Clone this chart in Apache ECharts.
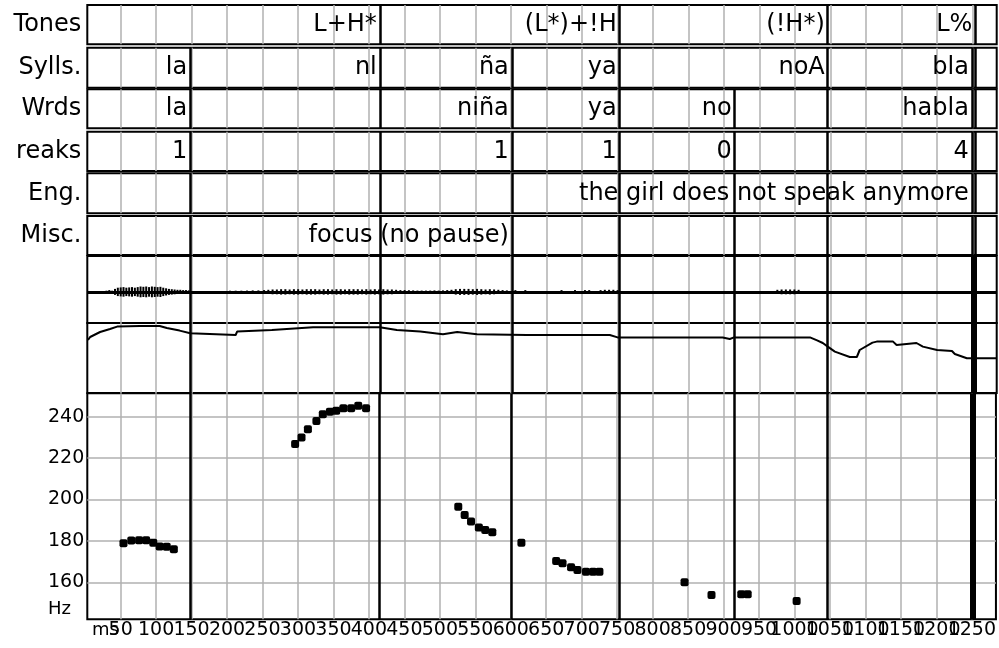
<!DOCTYPE html>
<html><head><meta charset="utf-8">
<script src="https://cdn.jsdelivr.net/npm/echarts@6/dist/echarts.min.js"></script>
<style>html,body{margin:0;padding:0;background:#fff}#c{width:999px;height:648px}</style>
</head><body><div id="c"></div>
<script>
// ---------- data ----------
const xMin = 3, xMax = 1284;
const xTicks = [50,100,150,200,250,300,350,400,450,500,550,600,650,700,750,800,850,900,950,1000,1050,1100,1150,1200,1250];
const pitchTicks = [160,180,200,220,240];
const pitchMin = 142.1, pitchMax = 251.3;

const tierNames = ['Tones','Sylls.','Wrds','reaks','Eng.','Misc.'];
const tonesBounds = [415, 753, 1046, 1254];
const syllBounds  = [148, 415, 601, 753, 1046, 1249, 1254];
const wrdsBounds  = [148, 415, 601, 753, 915, 1046, 1249, 1254];
const reaksBounds = [148, 415, 601, 753, 915, 1046, 1249, 1254];
const engBounds   = [148, 415, 601, 753, 915, 1046, 1249, 1254];
const miscBounds  = [148, 415, 601, 753, 915, 1046, 1249, 1254];
const panelBounds = [148, 415, 601, 753, 915, 1046];
const finalBound = [1251];

const tonesEnds = [415, 753, 1046, 1254];
const tonesText = ['L+H*', '(L*)+!H', '(!H*)', 'L%'];
const syllEnds = [148, 415, 601, 753, 1046, 1249];
const syllText = ['la', 'nl', 'ña', 'ya', 'noA', 'bla'];
const wrdsEnds = [148, 601, 753, 915, 1249];
const wrdsText = ['la', 'niña', 'ya', 'no', 'habla'];
const reaksEnds = [148, 601, 753, 915, 1249];
const reaksText = ['1', '1', '1', '0', '4'];
const engEnds = [1249];
const engText = ['the girl does not speak anymore'];
const miscEnds = [601];
const miscText = ['focus (no pause)'];

// waveform envelope (ms, amplitude)
const waveT = [30,34,38,42,46,50,54,58,62,66,70,74,78,82,86,90,94,98,102,106,110,114,118,122,126,130,134,138,142,146,
  204,212,220,228,236,244,252,258,264,270,276,282,288,294,300,306,312,318,324,330,336,342,348,354,360,366,372,378,384,390,396,402,408,414,
  420,426,432,438,444,450,456,462,468,474,480,486,492,498,504,510,516,522,528,534,540,546,552,558,564,570,576,582,588,594,
  606,620,671,690,704,710,726,732,738,744,750,
  975,981,987,993,999,1005];
const waveA = [0.02,0.03,0.02,0.05,0.07,0.075,0.08,0.07,0.075,0.08,0.07,0.08,0.09,0.085,0.09,0.08,0.09,0.085,0.08,0.085,0.07,0.06,0.05,0.045,0.04,0.035,0.035,0.03,0.03,0.025,
  0.02,0.02,0.02,0.022,0.025,0.025,0.03,0.035,0.04,0.04,0.045,0.045,0.04,0.045,0.045,0.04,0.045,0.045,0.045,0.04,0.045,0.045,0.04,0.045,0.045,0.04,0.045,0.045,0.045,0.04,0.045,0.04,0.045,0.04,
  0.045,0.04,0.04,0.035,0.03,0.03,0.028,0.025,0.022,0.022,0.022,0.022,0.025,0.022,0.025,0.03,0.035,0.045,0.05,0.05,0.05,0.045,0.05,0.045,0.04,0.045,0.04,0.035,0.03,0.025,
  0.03,0.03,0.03,0.03,0.03,0.03,0.03,0.035,0.035,0.035,0.03,
  0.035,0.04,0.04,0.04,0.04,0.035];

// intensity (ms, dB)
const intT = [4,7,21,35,45,77,105,115,133,148,150,212,214,263,321,415,439,472,504,524,552,622,739,750,898,908,914,1021,1031,1039,1046,1056,1077,1087,1091,1109,1115,1138,1143,1171,1180,1200,1221,1225,1242,1284];
const intDb = [71.5,73,75.5,77,78.2,78.5,78.5,77.5,76.2,74.9,74,74,75.7,76.5,77.9,77.9,76.5,75.7,74.4,75.5,74.4,74,74,72.8,72.8,72,72.8,72.8,71.3,70,68.2,65.7,63,63,66.5,70.2,70.7,70.7,69,70,68.2,66.5,66,64.5,62.4,62.4];

// pitch (ms, Hz)
const pitchT = [54,65,76,86,96,105,115,125, 296,305,314,326,335,345,354,364,375,385,396, 526,535,544,555,564,574, 615, 664,673,685,694,706,716,725, 845, 883, 925,934, 1003];
const pitchHz = [178.8,180.2,180.3,180.3,179.1,177.3,177.1,176.0, 226.8,229.9,233.9,237.9,241.2,242.4,242.9,244.1,244.1,245.3,244.1, 196.5,192.5,189.3,186.4,185.3,184.2, 179.1, 170.3,169.2,167.2,165.9,165.1,165.1,165.1, 160.0, 153.9, 154.2,154.2, 151.0];

// ---------- layout ----------
const FONT = 'DejaVu Sans';
const L = 87.3, W = 909.4;
const rows = [
  {top:5, h:39.3},{top:47.7, h:40},{top:89.3, h:39},{top:131.7, h:39.3},{top:173.3, h:40},{top:216, h:39},
  {top:256, h:67},{top:323, h:70},{top:393.3, h:226}
];
const tierBounds = [tonesBounds, syllBounds, wrdsBounds, reaksBounds, engBounds, miscBounds];
const tierEnds = [tonesEnds, syllEnds, wrdsEnds, reaksEnds, engEnds, miscEnds];
const tierTexts = [tonesText, syllText, wrdsText, reaksText, engText, miscText];

const grid = rows.map(r => ({left:L, width:W, top:r.top, height:r.h, show:true, borderColor:'#000', borderWidth:2, backgroundColor:'transparent', containLabel:false}));

const gray = {color:'#b0b0b0', width:1.5};
// labels split over two bottom axes so that overlapping neighbours are never dropped
const labelsA = xTicks.filter((v, k) => k % 2 === 0);
const labelsB = xTicks.filter((v, k) => k % 2 === 1);
const xLabelStyle = {fontSize:19, fontFamily:FONT, color:'#000', margin:1, hideOverlap:false, formatter: v => String(v)};

const xAxis = rows.map((r, i) => ({
  type:'value', gridIndex:i, min:xMin, max:xMax, position:'bottom',
  axisLine:{show:false},
  axisTick:{show:false, customValues:xTicks},
  axisLabel:Object.assign({show:i === 8, customValues:labelsA}, xLabelStyle),
  splitLine:{show:true, lineStyle:gray}
}));
xAxis.push({
  type:'value', gridIndex:8, min:xMin, max:xMax, position:'bottom', offset:0,
  axisLine:{show:false}, axisTick:{show:false, customValues:labelsB}, splitLine:{show:false},
  axisLabel:Object.assign({show:true, customValues:labelsB}, xLabelStyle)
});

const yAxis = [];
tierNames.forEach((n, i) => yAxis.push({
  type:'category', gridIndex:i, data:[n],
  axisLine:{show:false}, axisTick:{show:false}, splitLine:{show:false},
  axisLabel:{fontSize:24, fontFamily:FONT, color:'#000', margin:6}
}));
yAxis.push({type:'value', gridIndex:6, min:-0.52, max:0.6, show:true, axisLine:{show:false}, axisTick:{show:false}, axisLabel:{show:false}, splitLine:{show:false}});
yAxis.push({type:'value', gridIndex:7, min:45, max:80, axisLine:{show:false}, axisTick:{show:false}, axisLabel:{show:false}, splitLine:{show:false}});
yAxis.push({type:'value', gridIndex:8, min:pitchMin, max:pitchMax,
  axisLine:{show:false}, axisTick:{show:false, customValues:pitchTicks},
  axisLabel:{customValues:pitchTicks, fontSize:19, fontFamily:FONT, color:'#000', margin:3},
  splitLine:{show:true, lineStyle:gray}});

function vLines(arr, width) {
  return arr.map(t => ({xAxis:t, lineStyle:{color:'#000', width:width, type:'solid'}}));
}
function mark(arr, width, extra) {
  return {silent:true, symbol:['none','none'], label:{show:false}, animation:false,
    lineStyle:{color:'#000', width:width, type:'solid'},
    data: vLines(arr, width).concat(extra || [])};
}

const series = [];
tierNames.forEach((n, i) => {
  series.push({
    type:'scatter', xAxisIndex:i, yAxisIndex:i, symbolSize:0, itemStyle:{color:'rgba(0,0,0,0)', opacity:1},
    data: tierEnds[i].map((t, k) => ({value:[t, n], txt:tierTexts[i][k]})),
    label:{show:true, position:'left', distance:3, fontSize:24, fontFamily:FONT, color:'#000', opacity:1,
      formatter: p => p.data.txt},
    markLine: mark(tierBounds[i], 2.5),
    z:5
  });
});
// waveform
series.push({
  type:'custom', xAxisIndex:6, yAxisIndex:6, coordinateSystem:'cartesian2d',
  data: waveT.map((t, k) => [t, waveA[k]]),
  encode:{x:0, y:1},
  renderItem: (params, api) => {
    const t = api.value(0), a = api.value(1);
    const p1 = api.coord([t, a]), p2 = api.coord([t, -a]);
    return {type:'line', shape:{x1:p1[0], y1:p1[1], x2:p2[0], y2:p2[1]}, style:{stroke:'#000', lineWidth:2}};
  },
  markLine: mark(panelBounds, 2.5, [{yAxis:0, lineStyle:{color:'#000', width:3, type:'solid'}}].concat(vLines(finalBound, 6))),
  z:5
});
// intensity
series.push({
  type:'line', xAxisIndex:7, yAxisIndex:7, showSymbol:false, symbol:'none',
  data: intT.map((t, k) => [t, intDb[k]]),
  lineStyle:{color:'#000', width:2},
  markLine: mark(panelBounds, 2.5, vLines(finalBound, 6)),
  z:5
});
// pitch
series.push({
  type:'scatter', xAxisIndex:8, yAxisIndex:8, symbol:'roundRect', symbolSize:8,
  itemStyle:{color:'#000', opacity:1},
  data: pitchT.map((t, k) => [t, pitchHz[k]]),
  markLine: mark(panelBounds, 2.5, vLines(finalBound, 6)),
  z:5
});

const chart = echarts.init(document.getElementById('c'), null, {renderer:'canvas'});
chart.setOption({
  animation:false,
  backgroundColor:'#fff',
  grid, xAxis, yAxis, series,
  graphic:[
    {type:'text', left:92, top:621, z:1, style:{text:'ms', fontSize:18, fontFamily:FONT, fill:'#000'}},
    {type:'text', left:48, top:600, style:{text:'Hz', fontSize:18, fontFamily:FONT, fill:'#000'}}
  ]
});
</script>
</body></html>
